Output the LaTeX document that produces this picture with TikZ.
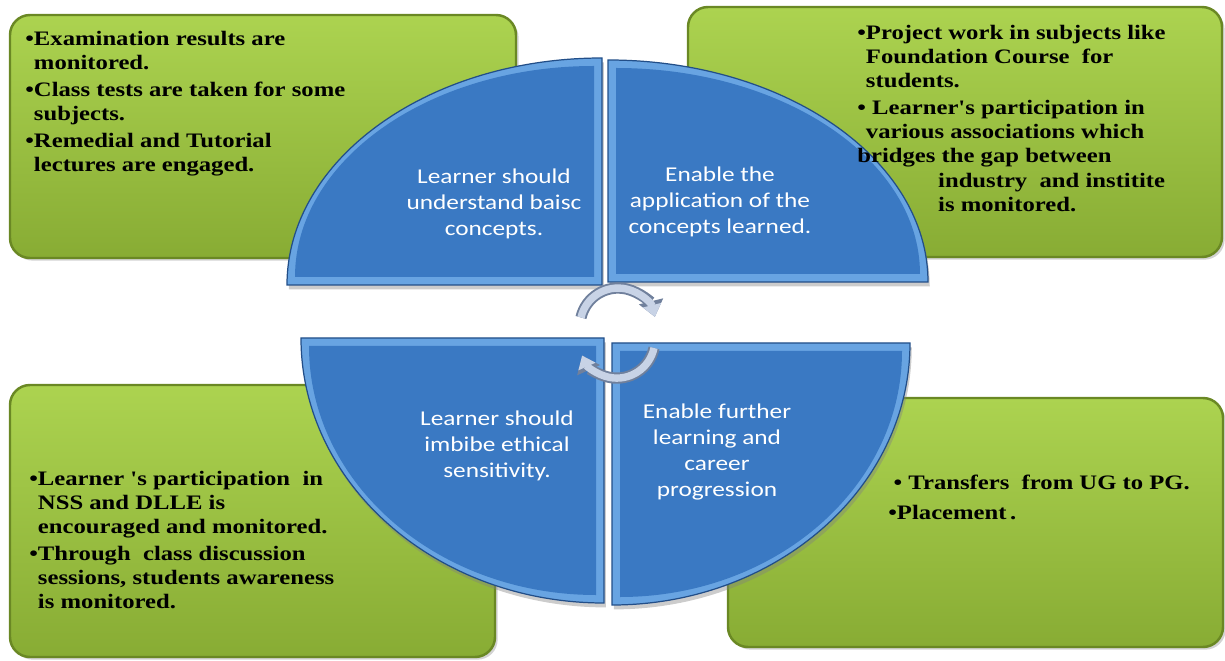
\documentclass[tikz,border=0pt]{standalone}
\usepackage{fontspec}
\usetikzlibrary{arrows.meta,shadows}

\newfontfamily\boxfont[FakeStretch=1.2]{Liberation Serif}
\newfontfamily\quadfont[FakeStretch=1.2]{Carlito}

\definecolor{boxtop}{RGB}{172,211,80}
\definecolor{boxbottom}{RGB}{136,172,52}
\definecolor{boxedge}{RGB}{106,136,36}
\definecolor{quadblue}{RGB}{58,121,195}
\definecolor{quadlight}{RGB}{104,164,226}
\definecolor{quadedge}{RGB}{34,78,136}
\definecolor{cycdark}{RGB}{112,128,156}
\definecolor{cyclight}{RGB}{200,211,230}

\begin{document}
\begin{tikzpicture}[x=0.2mm, y=0.2mm,
    greenbox/.style={rectangle, rounded corners=4mm, draw=boxedge, line width=1.4pt,
        top color=boxtop, bottom color=boxbottom, inner sep=0pt,
        drop shadow={shadow xshift=1.5pt, shadow yshift=-1.5pt, opacity=0.35}},
    notes/.style={inner sep=0pt, anchor=north west, align=left,
        font=\boxfont\bfseries\fontsize{11.7}{13.7}\selectfont},
    bevel/.style={fill=quadlight, draw=quadedge, line width=0.7pt,
        drop shadow={shadow xshift=1pt, shadow yshift=-2.5pt, opacity=0.4}},
    face/.style={fill=quadblue},
    quadtext/.style={text=white, align=center, inner sep=0pt,
        font=\quadfont\fontsize{12}{14.8}\selectfont},
    cycouter/.style={draw=cycdark, line width=6.4pt, -{Triangle[width=4.8mm, length=3.2mm]}},
    cycinner/.style={draw=cyclight, line width=4.2pt, -{Triangle[width=3.6mm, length=2.4mm]}}]

        \useasboundingbox (0, 0) rectangle (1225, 660);

        % Green boxes
        \node (exam) [greenbox, minimum width=101.2mm, minimum height=48.6mm] at (263, 523.5) {};
        \node (project) [greenbox, minimum width=106.8mm, minimum height=50mm] at (955, 528) {};
        \node (nss) [greenbox, minimum width=97mm, minimum height=54.4mm] at (252.5, 139) {};
        \node (transfer) [greenbox, minimum width=99mm, minimum height=49.8mm] at (975.5, 137.5) {};

        % Quadrants
        \path[bevel] (602, 375) -- (287, 375) arc[start angle=180, end angle=90, x radius=63mm, y radius=45.4mm] -- cycle;
        \path[face] (594, 383) -- (295, 383) arc[start angle=180, end angle=90, x radius=59.8mm, y radius=42.2mm] -- cycle;

        \path[bevel] (608, 378) -- (928, 378) arc[start angle=0, end angle=90, x radius=64mm, y radius=44.4mm] -- cycle;
        \path[face] (616, 386) -- (920, 386) arc[start angle=0, end angle=90, x radius=60.8mm, y radius=41.2mm] -- cycle;

        \path[bevel] (604, 322) -- (301, 322) arc[start angle=180, end angle=270, x radius=60.6mm, y radius=53mm] -- cycle;
        \path[face] (596, 314) -- (309, 314) arc[start angle=180, end angle=270, x radius=57.4mm, y radius=49.8mm] -- cycle;

        \path[bevel] (612, 317) -- (910, 317) arc[start angle=0, end angle=-90, x radius=59.6mm, y radius=52.4mm] -- cycle;
        \path[face] (620, 309) -- (902, 309) arc[start angle=0, end angle=-90, x radius=56.4mm, y radius=49.2mm] -- cycle;

        % Quadrant labels
        \node (basic) [quadtext] at (494, 456) {Learner should\\understand baisc\\concepts.};
        \node (apply) [quadtext] at (720, 458) {Enable the\\application of the\\concepts learned.};
        \node (ethics) [quadtext] at (497, 214) {Learner should\\imbibe ethical\\sensitivity.};
        \node (career) [quadtext] at (717, 208) {Enable further\\learning and\\career\\progression};

        % Box texts
        \node (examtext) [notes] at (25, 629) {%
            \textbullet Examination results are\\
            \phantom{\textbullet}monitored.\\[1.7pt]
            \textbullet Class tests are taken for some\\
            \phantom{\textbullet}subjects.\\[1.7pt]
            \textbullet Remedial and Tutorial\\
            \phantom{\textbullet}lectures are engaged.};
        \node (projecttext) [notes] at (857, 635) {%
            \textbullet Project work in subjects like\\
            \phantom{\textbullet}Foundation Course\ \ for\\
            \phantom{\textbullet}students.\\[1.7pt]
            \textbullet\ Learner's participation in\\
            \phantom{\textbullet}various associations which\\
            bridges the gap between\\
            \hspace*{46pt}industry\ \ and institite\\
            \hspace*{46pt}is monitored.};
        \node (nsstext) [notes] at (29, 189) {%
            \textbullet Learner 's participation\ \ in\\
            \phantom{\textbullet}NSS and DLLE is\\
            \phantom{\textbullet}encouraged and monitored.\\[1.7pt]
            \textbullet Through\ \ class discussion\\
            \phantom{\textbullet}sessions, students awareness\\
            \phantom{\textbullet}is monitored.};
        \node (transfertext) [notes] at (888, 185) {%
            \hspace*{3pt}\textbullet\ Transfers\ \ from UG to PG.\\[3.4pt]
            \textbullet Placement\,.};

        % Cycle arrows
        \coordinate (cyctop) at (581, 342.5);
        \coordinate (cycbottom) at (654, 312);
        \draw[cycouter] (cyctop) arc[start angle=167, end angle=14, radius=7.6mm];
        \draw[cycinner] (cyctop) arc[start angle=167, end angle=14, radius=7.6mm];
        \draw[cycouter] (cycbottom) arc[start angle=-12, end angle=-156, radius=7.6mm];
        \draw[cycinner] (cycbottom) arc[start angle=-12, end angle=-156, radius=7.6mm];

    \end{tikzpicture}
\end{document}
